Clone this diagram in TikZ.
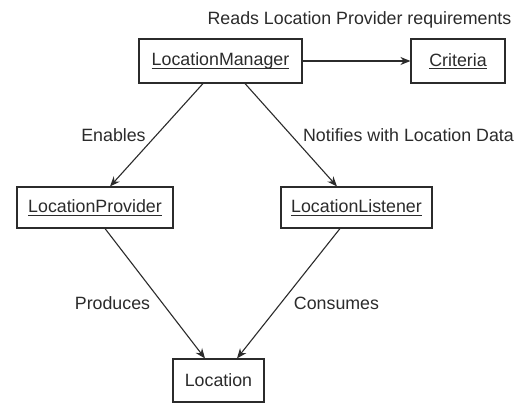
\documentclass[tikz,border=0pt]{standalone}
\usepackage{fontspec}
\setmainfont{Liberation Sans}
\usetikzlibrary{arrows.meta}
\newcommand\myul[1]{\setbox0\hbox{#1}\rlap{\rule[-2.8pt]{\wd0}{0.8pt}}\box0}
\definecolor{ink}{HTML}{2B2B2B}
\tikzset{
  box/.style={draw=ink, line width=1.1pt, inner sep=0pt, text=ink, font=\fontsize{17.8}{20}\selectfont},
  lbl/.style={inner sep=0pt, text=ink, font=\fontsize{17.8}{20}\selectfont},
  conn/.style={draw=ink, line width=1.1pt, -{Stealth[length=10pt,width=8pt]}}
}
\begin{document}
\begin{tikzpicture}[x=1pt,y=-1pt]
\useasboundingbox[fill=white] (0,0) rectangle (528,403);
\node[box, minimum width=163pt, minimum height=44pt] (lm) at (220.5,61) {\myul{LocationManager}};
\node[box, minimum width=94pt, minimum height=44pt] (cr) at (458,61) {\myul{Criteria}};
\node[box, minimum width=156pt, minimum height=41pt] (lp) at (95,207.5) {\myul{LocationProvider}};
\node[box, minimum width=151pt, minimum height=41pt] (ll) at (356.5,207.5) {\myul{LocationListener}};
\node[box, minimum width=91pt, minimum height=43pt] (loc) at (218.5,380.5) {Location};

\node[lbl] (t1) at (359.5,20) {Reads Location Provider requirements};
\node[lbl] (t2) at (113.5,135) {Enables};
\node[lbl] (t3) at (408.5,135) {Notifies with Location Data};
\node[lbl] (t4) at (112.5,303) {Produces};
\node[lbl] (t5) at (336.5,303) {Consumes};

\draw[conn] (lm) -- (cr);
\draw[conn] ([xshift=-17.5pt]lm.south) -- ([xshift=15pt]lp.north);
\draw[conn] ([xshift=24.5pt]lm.south) -- ([xshift=-19.5pt]ll.north);
\draw[conn] ([xshift=10pt]lp.south) -- ([xshift=-13.5pt]loc.north);
\draw[conn] ([xshift=-16.5pt]ll.south) -- ([xshift=18.5pt]loc.north);
\end{tikzpicture}
\end{document}
